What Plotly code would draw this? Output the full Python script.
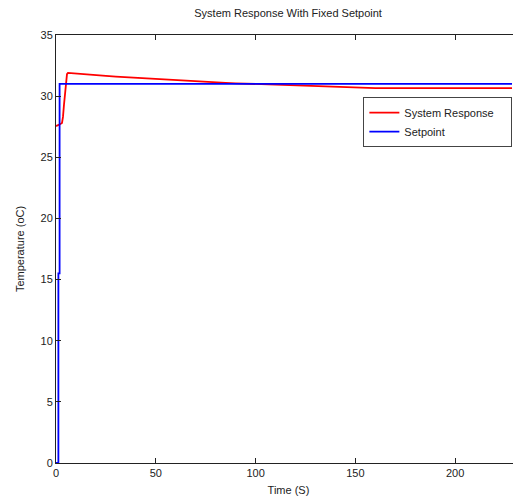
import plotly.graph_objects as go

# System response (red)
resp_t = [0, 1, 2, 3, 3.5, 4, 4.5, 5, 5.5, 6, 8, 10, 15, 20, 25, 30, 35, 40, 45, 50, 55, 60, 65, 70, 75, 80, 85, 90, 95, 100, 105, 110, 115, 120, 125, 130, 135, 140, 145, 150, 160, 170, 180, 190, 200, 210, 220, 228.5]
resp_v = [27.55, 27.6, 27.7, 27.8, 28.3, 29.3, 30.3, 31.2, 31.8, 31.9, 31.88, 31.85, 31.78, 31.72, 31.66, 31.6, 31.55, 31.5, 31.44, 31.38, 31.35, 31.3, 31.26, 31.22, 31.17, 31.12, 31.08, 31.05, 31.02, 31.0, 30.97, 30.94, 30.91, 30.88, 30.84, 30.8, 30.77, 30.74, 30.71, 30.68, 30.66, 30.65, 30.65, 30.65, 30.65, 30.65, 30.65, 30.65]

# Setpoint (blue)
set_t = [0, 1.2, 1.2, 1.8, 1.8, 228.5]
set_v = [0, 0, 15.5, 15.5, 31.0, 31.0]

x_ticks = [0, 50, 100, 150, 200]
y_ticks = [0, 5, 10, 15, 20, 25, 30, 35]

pad = "\u00a0" * 4
fig = go.Figure()
fig.add_trace(go.Scatter(x=resp_t, y=resp_v, mode="lines", name="System Response" + pad,
                         line=dict(color="#ff0000", width=1.8)))
fig.add_trace(go.Scatter(x=set_t, y=set_v, mode="lines", name="Setpoint",
                         line=dict(color="#0000ff", width=1.8)))

fam = "Liberation Sans, Arial, sans-serif"
font = dict(family=fam, size=11, color="#222222")

fig.update_layout(
    width=513, height=488,
    margin=dict(l=48, r=0, t=27, b=33),
    paper_bgcolor="white", plot_bgcolor="white",
    font=font,
    title=dict(text="System Response With Fixed Setpoint", x=0.546, xanchor="center",
               y=1 - 5 / 488, yanchor="middle", font=dict(size=11, family=fam, color="#222222")),
    showlegend=True,
    legend=dict(x=0.661, y=0.855, xanchor="left", yanchor="top",
                bgcolor="white", bordercolor="#444444", borderwidth=1,
                font=dict(size=11, family=fam, color="#222222"),
                tracegroupgap=0),
    xaxis=dict(range=[0, 233], tickvals=x_ticks, ticks="inside", ticklen=5,
               showgrid=False, zeroline=False, showline=True, linecolor="#222222",
               linewidth=1, mirror="ticks", tickcolor="#222222", automargin=False,
               tickfont=dict(size=11, family=fam, color="#222222"),
               title=dict(text="Time (S)", standoff=9, font=dict(size=11, family=fam, color="#222222"))),
    yaxis=dict(range=[0, 35], tickvals=y_ticks, ticks="inside", ticklen=5,
               showgrid=False, zeroline=False, showline=True, linecolor="#222222",
               linewidth=1, mirror="ticks", tickcolor="#222222", automargin=False,
               tickfont=dict(size=11, family=fam, color="#222222"),
               title=dict(text="Temperature (oC)", standoff=13, font=dict(size=11, family=fam, color="#222222"))),
)

fig.write_html("out.html")
